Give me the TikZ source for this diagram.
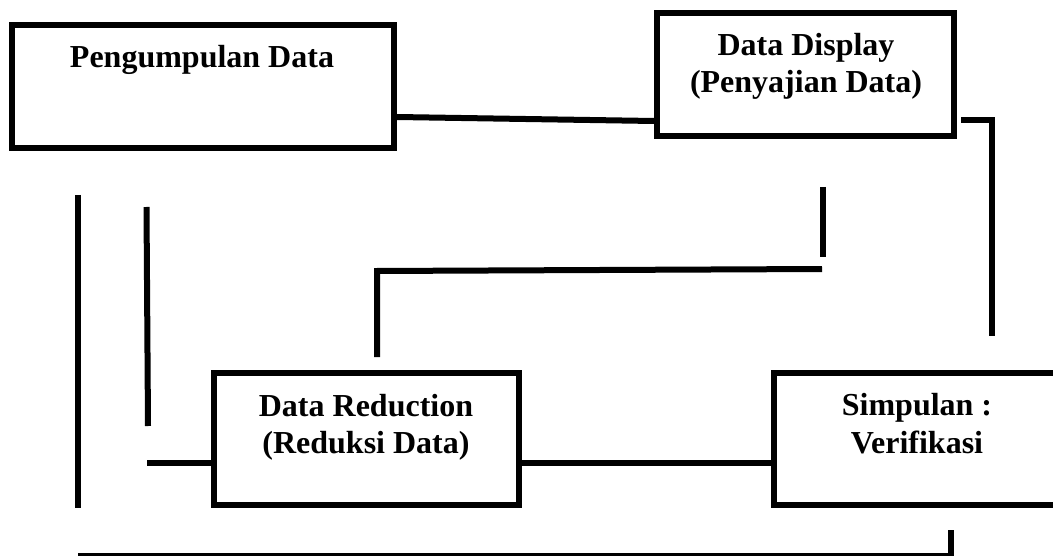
\documentclass[tikz,border=0pt]{standalone}
\usepackage{fontspec}
\setmainfont{Liberation Serif}
\begin{document}
\begin{tikzpicture}[x=0.75pt,y=-0.75pt,
  box/.style={draw=black,line width=4.5pt,rectangle,inner sep=0pt},
  lbl/.style={anchor=base,inner sep=0pt,font=\fontsize{24}{28}\selectfont\bfseries},
  conn/.style={draw=black,line width=4.5pt,line join=miter}]
\useasboundingbox (0,0) rectangle (1053,556);
\clip (0,0) rectangle (1053,556);
\fill[white] (0,0) rectangle (1053,556);
% boxes
\node[box,minimum width=286.5pt,minimum height=92.25pt] (b1) at (203,86.5) {};
\node[box,minimum width=222.75pt,minimum height=92.25pt] (b2) at (805.5,74.5) {};
\node[box,minimum width=228.75pt,minimum height=99pt] (b3) at (366.5,439) {};
\node[box,minimum width=214.5pt,minimum height=99pt] (b4) at (917,439) {};
% texts
\node[lbl] (t1) at (202,68) {Pengumpulan Data};
\node[lbl] (t2a) at (806,56) {Data Display};
\node[lbl] (t2b) at (806,93) {(Penyajian Data)};
\node[lbl] (t3a) at (366,416) {Data Reduction};
\node[lbl] (t3b) at (366,453) {(Reduksi Data)};
\node[lbl] (t4a) at (917,415) {Simpulan :};
\node[lbl] (t4b) at (917,453) {Verifikasi};
% coordinates
\coordinate (p1) at (0,117);
\coordinate (p2) at (0,121);
\coordinate (q1) at (961,120);
\coordinate (q2) at (992,120);
\coordinate (q3) at (992,336);
\coordinate (r1) at (822.5,187);
\coordinate (r2) at (822.5,257);
\coordinate (s1) at (822,269);
\coordinate (s2) at (377,271);
\coordinate (s3) at (377,357);
\coordinate (l1) at (78,195);
\coordinate (l2) at (78,508);
\coordinate (m1) at (146.5,207);
\coordinate (m2) at (148,426);
\coordinate (h1) at (147,463);
\coordinate (g1) at (0,463);
\coordinate (k1) at (951,530);
\coordinate (k2) at (951,556);
\coordinate (k3) at (78,556);
% connectors
\draw[conn] (b1.east |- p1) -- (b2.west |- p2);
\draw[conn] (q1) -- (q2) -- (q3);
\draw[conn] (r1) -- (r2);
\draw[conn] (s1) -- (s2) -- (s3);
\draw[conn] (l1) -- (l2);
\draw[conn] (m1) -- (m2);
\draw[conn] (h1) -- (b3.west |- h1);
\draw[conn] (b3.east |- g1) -- (b4.west |- g1);
\draw[conn] (k1) -- (k2) -- (k3);
\end{tikzpicture}
\end{document}
